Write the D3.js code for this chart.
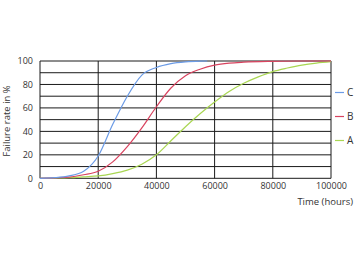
<!DOCTYPE html>
<html>
<head>
<meta charset="utf-8">
<script src="https://cdn.jsdelivr.net/npm/d3@7"></script>
<style>
  html, body { margin: 0; padding: 0; background: #fff; }
  svg { display: block; }
  text { font-family: "Open Sans", "Liberation Sans", sans-serif; fill: #333; }
</style>
</head>
<body>
<svg id="chart" width="360" height="262"></svg>
<script>
// ---- data ----
const hoursA = [0, 5000, 10000, 15000, 20000, 25000, 30000, 35000, 40000, 45000, 50000, 55000, 60000, 65000, 70000, 75000, 80000, 85000, 90000, 95000, 100000];
const seriesA = [0, 0.2, 0.5, 1.2, 2, 4, 7, 12, 20, 32, 44, 55, 65, 74, 81, 86.5, 91, 94, 96.5, 98.2, 99.4];
const hoursB = [0, 5000, 10000, 15000, 20000, 25000, 30000, 35000, 40000, 45000, 50000, 55000, 60000, 65000, 70000, 80000, 90000, 100000];
const seriesB = [0, 0.4, 1, 3, 6, 14, 27, 43, 61, 77, 87.5, 93, 96.5, 98.2, 99, 99.7, 100, 100];
const hoursC = [0, 5000, 10000, 15000, 20000, 25000, 30000, 35000, 40000, 45000, 50000, 55000, 57500];
const seriesC = [0, 0.5, 2, 6, 19, 46, 70, 88, 94.5, 97.8, 99.3, 99.9, 100];
const xTicks = [0, 20000, 40000, 60000, 80000, 100000];
const yTicks = [0, 20, 40, 60, 80, 100];
const yGrid = [0, 10, 20, 30, 40, 50, 60, 70, 80, 90, 100];
const legendNames = ["C", "B", "A"];
const colors = { A: "#a9d652", B: "#d8435f", C: "#6b9be6" };

// ---- layout ----
const svg = d3.select("#chart");
const x = d3.scaleLinear().domain([0, 100000]).range([40, 331]);
const y = d3.scaleLinear().domain([0, 100]).range([178.3, 61]);

// horizontal grid
svg.append("g").selectAll("line").data(yGrid).join("line")
  .attr("x1", x(0)).attr("x2", x(100000))
  .attr("y1", d => y(d)).attr("y2", d => y(d))
  .attr("stroke", "#1a1a1a").attr("stroke-width", 1);

// vertical grid
svg.append("g").selectAll("line").data(xTicks).join("line")
  .attr("x1", d => x(d)).attr("x2", d => x(d))
  .attr("y1", y(0)).attr("y2", y(100))
  .attr("stroke", "#1a1a1a").attr("stroke-width", 1);

// axes (labels only)
const xAxis = d3.axisBottom(x).tickValues(xTicks).tickSize(0).tickPadding(4).tickFormat(d3.format("d"));
const gx = svg.append("g").attr("transform", `translate(0,${y(0)})`).call(xAxis);
gx.select(".domain").remove();
gx.selectAll("text").style("font-size", "9px").attr("fill", "#333");

const yAxis = d3.axisLeft(y).tickValues(yTicks).tickSize(0).tickPadding(7).tickFormat(d3.format("d"));
const gy = svg.append("g").attr("transform", `translate(${x(0)},0)`).call(yAxis);
gy.select(".domain").remove();
gy.selectAll("text").style("font-size", "9px").attr("fill", "#333");

// lines
const line = d3.line().x(d => x(d[0])).y(d => y(d[1])).curve(d3.curveMonotoneX);
const series = [
  { name: "A", h: hoursA, v: seriesA },
  { name: "B", h: hoursB, v: seriesB },
  { name: "C", h: hoursC, v: seriesC }
];
svg.append("g").selectAll("path").data(series).join("path")
  .attr("d", s => line(s.h.map((h, i) => [h, s.v[i]])))
  .attr("fill", "none")
  .attr("stroke", s => colors[s.name])
  .attr("stroke-width", 1.2);

// axis titles
svg.append("text").attr("x", 353).attr("y", 205)
  .attr("text-anchor", "end").style("font-size", "9.5px").text("Time (hours)");
svg.append("text").attr("transform", "translate(10,121) rotate(-90)")
  .attr("text-anchor", "middle").style("font-size", "9.5px").text("Failure rate in %");

// legend
const legY = [92.5, 116.5, 140.5];
const lg = svg.append("g").selectAll("g").data(legendNames).join("g")
  .attr("transform", (d, i) => `translate(0,${legY[i]})`);
lg.append("line").attr("x1", 335).attr("x2", 344).attr("y1", 0).attr("y2", 0)
  .attr("stroke", d => colors[d]).attr("stroke-width", 1.2);
lg.append("text").attr("x", 347).attr("y", 3.5).style("font-size", "10px").text(d => d);
</script>
</body>
</html>
